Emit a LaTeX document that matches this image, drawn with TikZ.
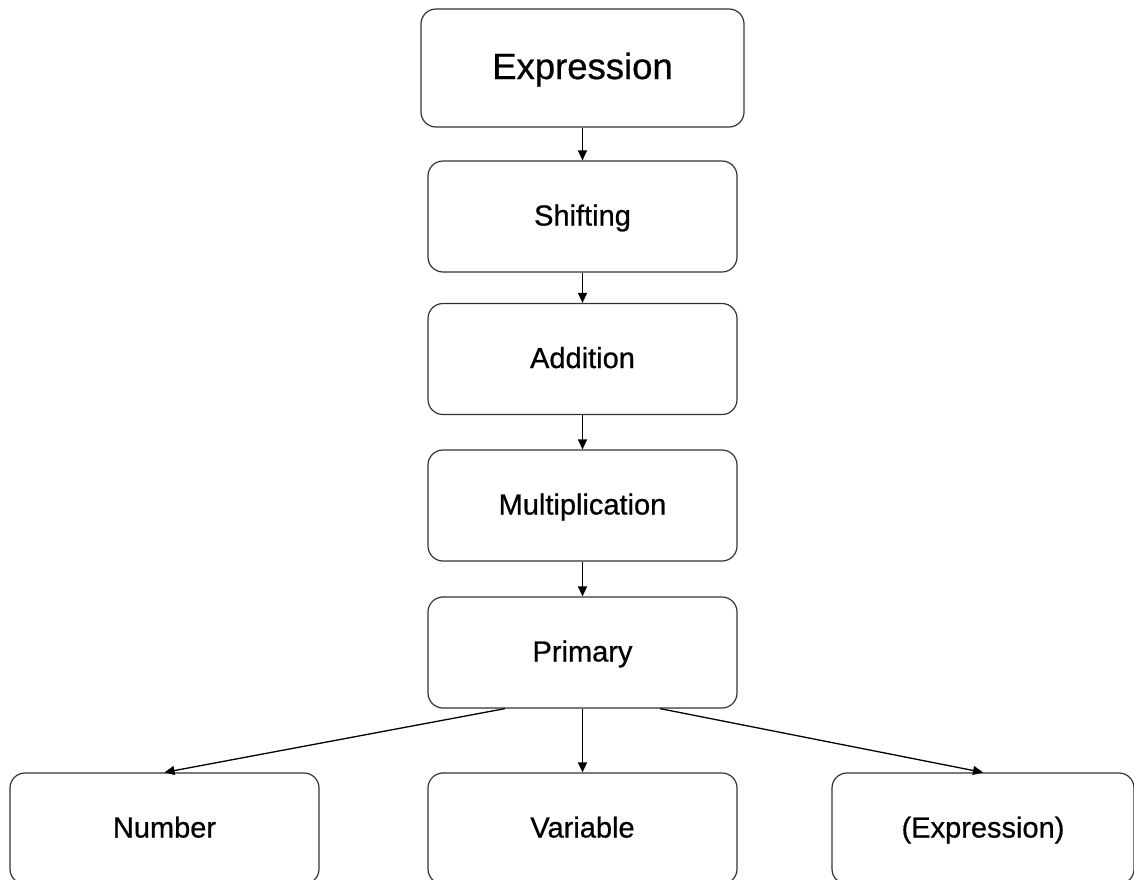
\documentclass[tikz,border=0pt]{standalone}
\usepackage{fontspec}
\setmainfont{Liberation Sans}
\newfontfamily\labelfont{Liberation Sans}[FakeBold=0.7]
\usetikzlibrary{arrows.meta,calc}
\tikzset{
  box/.style={draw=black!80, line width=1.2pt, rounded corners=15pt, fill=white,
    minimum width=309pt, minimum height=111pt, inner sep=0pt,
    text height=20pt, text depth=2pt,
    font=\labelfont\fontsize{29}{32}\selectfont},
  bigbox/.style={box, minimum width=323pt, minimum height=118pt,
    text height=24pt, text depth=2pt,
    font=\labelfont\fontsize{36.5}{40}\selectfont},
  link/.style={draw=black, line width=1.3pt, -{Triangle[length=10pt,width=9pt]}}
}
\begin{document}
\begin{tikzpicture}[x=1pt,y=-1pt]
  \useasboundingbox (0,0) rectangle (1134,879);
  \clip (0,0) rectangle (1134,879);
  % main chain of grammar levels
  \node[bigbox] (expr)  at (582.5,68)    {Expression};
  \node[box]    (shift) at (582.5,216.5) {Shifting};
  \node[box]    (add)   at (582.5,359)   {Addition};
  \node[box]    (mult)  at (582.5,505.5) {Multiplication};
  \node[box]    (prim)  at (582.5,652.5) {Primary};
  % alternatives of a primary
  \node[box]                      (num)   at (164.5,828.5) {Number};
  \node[box]                      (var)   at (582.5,828.5) {Variable};
  \node[box, minimum width=302pt] (paren) at (983,828.5)   {(Expression)};
  % connectors
  \draw[link] (expr) -- (shift);
  \draw[link] (shift) -- (add);
  \draw[link] (add) -- (mult);
  \draw[link] (mult) -- (prim);
  \coordinate (pl) at ($(prim.south west)!0.25!(prim.south east)$);
  \coordinate (pr) at ($(prim.south west)!0.75!(prim.south east)$);
  \draw[link] (pl) -- (num.north);
  \draw[link] (prim) -- (var);
  \draw[link] (pr) -- (paren.north);
\end{tikzpicture}
\end{document}
